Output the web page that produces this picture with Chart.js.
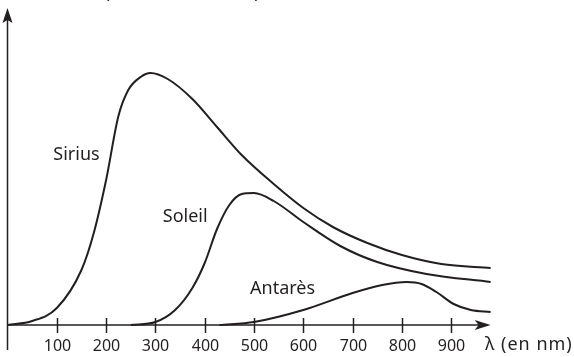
<!DOCTYPE html>
<html>
<head>
<meta charset="utf-8">
<script src="https://cdn.jsdelivr.net/npm/chart.js@4.4.0/dist/chart.umd.min.js"></script>
<style>
  html, body { margin: 0; padding: 0; background: #fff; }
  #wrap { width: 574px; height: 357px; }
</style>
</head>
<body>
<div id="wrap"><canvas id="myChart" width="574" height="357"></canvas></div>
<script>
// wavelengths (nm) and intensities (arbitrary units)
const siriusLambda = [0, 50, 100, 150, 175, 200, 225, 245, 270, 290, 325, 375, 425, 475, 540, 600, 660, 730, 800, 880, 980];
const siriusI      = [0, 4, 17, 55, 92, 145, 209, 235, 248, 252, 246, 226, 198, 170, 141, 117, 98, 82, 70, 61, 57];

const soleilLambda = [250, 300, 340, 375, 400, 425, 450, 475, 500, 540, 600, 675, 750, 850, 980];
const soleilI      = [0, 3, 15, 37, 62, 96, 120, 131, 132, 124, 103, 79, 63, 51, 43];

const antaresLambda = [430, 500, 600, 700, 760, 810, 840, 870, 905, 940, 980];
const antaresI      = [0, 3, 15, 32, 40, 43, 41, 33, 21, 15, 13];

const xTicks = [100, 200, 300, 400, 500, 600, 700, 800, 900];

const starLabels = [
  { text: 'Sirius', lambda: 93, i: 170 },
  { text: 'Soleil', lambda: 315, i: 108 },
  { text: 'Antarès', lambda: 492, i: 36 }
];

const ink = '#231f20';
const tickFont = '16px "Noto Sans", sans-serif';
const wordFont = '18px "Noto Sans", sans-serif';

const toPoints = (xs, ys) => xs.map((x, k) => ({ x: x, y: ys[k] }));

const curve = (label, xs, ys) => ({
  label: label,
  data: toPoints(xs, ys),
  borderColor: ink,
  borderWidth: 2,
  pointRadius: 0,
  fill: false,
  cubicInterpolationMode: 'monotone',
  clip: false
});

const axesPlugin = {
  id: 'axes',
  afterDatasetsDraw(chart) {
    const ctx = chart.ctx;
    const xs = chart.scales.x;
    const ys = chart.scales.y;
    const x0 = xs.getPixelForValue(0);
    const y0 = ys.getPixelForValue(0);

    ctx.save();
    ctx.strokeStyle = ink;
    ctx.fillStyle = ink;
    ctx.lineWidth = 1.5;

    // vertical axis
    ctx.beginPath();
    ctx.moveTo(x0, 350);
    ctx.lineTo(x0, 14);
    ctx.stroke();
    // horizontal axis
    const xEnd = xs.getPixelForValue(980);
    ctx.beginPath();
    ctx.moveTo(x0, y0);
    ctx.lineTo(xEnd - 4, y0);
    ctx.stroke();

    // arrow heads
    ctx.beginPath();
    ctx.moveTo(x0, 8);
    ctx.lineTo(x0 + 5, 23);
    ctx.lineTo(x0, 20);
    ctx.lineTo(x0 - 5, 23);
    ctx.closePath();
    ctx.fill();

    ctx.beginPath();
    ctx.moveTo(xEnd, y0);
    ctx.lineTo(xEnd - 16, y0 - 5);
    ctx.lineTo(xEnd - 12, y0);
    ctx.lineTo(xEnd - 16, y0 + 5);
    ctx.closePath();
    ctx.fill();

    // ticks and labels
    ctx.font = tickFont;
    ctx.textAlign = 'center';
    ctx.textBaseline = 'middle';
    xTicks.forEach(t => {
      const px = Math.round(xs.getPixelForValue(t)) + 0.5;
      ctx.beginPath();
      ctx.moveTo(px, y0 - 7);
      ctx.lineTo(px, y0 + 8);
      ctx.stroke();
      ctx.fillText(String(t), px, 346);
    });

    ctx.font = wordFont;
    ctx.textAlign = 'left';
    ctx.letterSpacing = '1px';
    ctx.fillText('λ (en nm)', 485, 345);
    ctx.letterSpacing = '0px';

    // star names
    starLabels.forEach(l => {
      ctx.fillText(l.text, xs.getPixelForValue(l.lambda), ys.getPixelForValue(l.i));
    });

    // axis title, mostly cut off by the top edge
    ctx.textBaseline = 'alphabetic';
    ctx.fillText('Intensité (unités arbitraires)', 25, -2.5);
    ctx.restore();
  }
};

new Chart(document.getElementById('myChart'), {
  type: 'line',
  data: {
    datasets: [
      curve('Sirius', siriusLambda, siriusI),
      curve('Soleil', soleilLambda, soleilI),
      curve('Antarès', antaresLambda, antaresI)
    ]
  },
  options: {
    responsive: false,
    animation: false,
    layout: { padding: { left: 7.5, right: 73.5, top: 16, bottom: 32 } },
    scales: {
      x: { type: 'linear', min: 0, max: 1000, display: false },
      y: { type: 'linear', min: 0, max: 309, display: false }
    },
    plugins: {
      legend: { display: false },
      tooltip: { enabled: false }
    }
  },
  plugins: [axesPlugin]
});
</script>
</body>
</html>
